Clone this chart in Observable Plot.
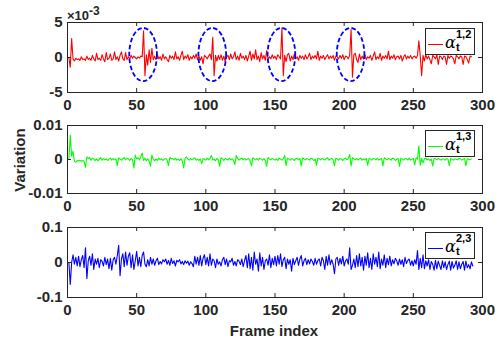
<!DOCTYPE html>
<html>
<head>
<meta charset="utf-8">
<script src="https://cdn.jsdelivr.net/npm/d3@7"></script>
<script src="https://cdn.jsdelivr.net/npm/@observablehq/plot@0.6"></script>
<style>
  html, body { margin: 0; padding: 0; background: #fff; }
  #chart { position: relative; width: 500px; height: 343px; overflow: hidden;
           font-family: "Liberation Sans", Arial, sans-serif; font-weight: bold; color: #262626; }
  .panel { position: absolute; left: 0; }
  .legend { position: absolute; left: 425px; width: 48px; height: 25px; border: 1px solid #262626; background: #fff; }
  .lline { position: absolute; left: 2px; top: 15px; width: 15px; height: 1px; }
  .alpha { position: absolute; left: 19px; top: 6px; font-family: "DejaVu Serif", serif; font-style: italic; font-weight: normal; font-size: 16px; line-height: 16px; color: #000; }
  .sup { position: absolute; left: 30px; top: 0px; font-size: 11px; line-height: 11px; color: #000; }
  .sub { position: absolute; left: 30px; top: 13px; font-size: 11px; line-height: 11px; color: #000; }
  .lab { position: absolute; white-space: nowrap; font-size: 15px; transform: translate(-50%, -50%); }
  #expo { position: absolute; left: 67px; top: 9px; font-size: 13px; line-height: 13px; white-space: nowrap; }
  #expo sup { font-size: 12px; position: relative; top: -5px; vertical-align: baseline; }
</style>
</head>
<body>
<div id="chart"></div>
<script>
// ---- data ----
const xTicks = [0, 50, 100, 150, 200, 250, 300];
const xLabels = ["0", "50", "100", "150", "200", "250", "300"];

// panel 1: alpha_t^{1,2}, values in units of 1e-3
const y1Ticks = [-5, 0, 5];
const y1Labels = ["-5", "0", "5"];
const alpha12_milli = [
  0, -1.4, 2.7, -0.2, -0.5, -0.1, -0.3, -0.2, -0.4, 0.1,
  -0.3, -0.2, -0.4, 0.2, -0.3, -0.1, -0.4, 0.3, -0.2, -0.5,
  0.6, -0.3, -0.1, -0.4, 0.4, -0.2, -0.6, 0.7, -0.3, -0.1,
  0.5, -0.4, -0.2, 0.8, -0.3, 0.1, -0.5, 0.3, 0.8, -0.2,
  -0.4, 0.7, -0.3, 0.1, -0.2, 0.3, -0.1, 0.2, 0, -0.2,
  0.1, -0.1, 0.2, 0.1, 3.8, -2.6, 0.4, -1.1, 1.1, -0.7,
  1.3, -0.3, 0.2, -0.3, 0.4, -0.2, 0.1, -0.4, 0.5, -0.2,
  0.1, -0.3, -0.6, 0.3, -0.1, 0.2, -0.3, 0.8, -0.2, 0.1,
  -0.4, 0.3, 0.9, -0.3, 0.2, -0.1, 0.4, -0.4, 0.1, -0.2,
  0.3, -0.1, 0.5, -0.3, 0.2, -0.4, 0.1, -0.9, 0.3, 0.1,
  -0.2, 0.2, 0.5, -0.3, 2.9, -2.6, 0.3, -0.5, 0.3, -0.3,
  0.4, -0.4, 0.2, -0.6, 0.1, 0.3, -0.3, 0.5, -0.2, 0.1,
  0.8, -0.3, 0.2, -0.4, 0.6, -0.1, 0.2, -0.3, 0.3, -0.5,
  0.2, 0.9, -0.4, 0.5, -0.2, 1.1, -0.3, 0.2, -0.6, 0.7,
  -0.2, 0.3, -0.4, 1.0, -0.3, 0.1, -0.2, 0.4, -0.1, 0.2,
  -0.3, 0.4, 0.1, -0.2, 4.2, -2.6, 0.3, -0.6, 0.4, 0.6,
  -0.5, 0.2, -0.3, 0.5, -0.2, 0.1, -0.4, 0.3, -0.1, 0.2,
  -0.3, 0.4, -0.2, 0.1, 0.6, -0.3, 0.2, -0.1, 0.3, -0.2,
  0.9, -0.4, 0.2, -0.1, 0.3, -0.3, 0.1, 0.4, -0.2, 0.2,
  -0.1, 0.3, -0.4, 0.2, 0.1, -0.2, 0.3, -0.1, 0.4, -0.3,
  0.2, 0.1, -0.2, 0.3, 4.0, -2.8, 0.4, 0.6, -0.3, -0.7,
  0.5, -0.3, 0.2, -0.2, 0.4, -0.3, 0.1, -0.1, 0.3, -0.4,
  0.2, 0.8, -0.3, 0.1, -0.2, 0.6, -0.4, 0.2, -0.1, 0.3,
  -0.2, 0.9, -0.3, 0.2, -0.1, 0.4, -0.3, 0.1, 0.2, -0.2,
  0.3, -0.5, 0.1, 0.4, -0.2, 0.2, -0.1, 0.3, -0.2, 0.1,
  0.2, -0.1, 0.3, 2.4, 0.2, -2.6, 0.3, -0.5, 0.4, -0.2,
  0.2, -0.3, -0.9, 0.3, 0.1, -0.2, 0.4, -1.0, 0.2, 0.1,
  -0.3, 0.2, 0.1, -1.0, 0.3, -0.1, 0.2, 0.1, -0.2, -0.9,
  0.3, 0.1, -0.2, 0.2, 0.1, -1.0, 0.2, 0.1, -0.3, -0.8,
  0.2, 0.1
];

// panel 2: alpha_t^{1,3}, values in units of 1e-3
const y2Ticks = [-0.01, 0, 0.01];
const y2Labels = ["-0.01", "0", "0.01"];
const alpha13_milli = [
  0, 7.1, 1.0, 2.4, -0.5, -0.8, -0.3, -0.4, -0.2, -0.5,
  -0.3, -0.6, -2.3, 0.8, 0.3, 0.6, -0.2, 0.4, 0.1, -0.3,
  0.2, -0.4, 0.1, 0.6, -0.2, 0.3, -0.1, 0.2, -0.3, 0.1,
  0.4, -0.2, 0.3, -0.1, 0.2, -1.8, 0.5, 0.1, -0.2, 0.3,
  0.6, -0.1, 0.4, 0.2, -0.3, 0.3, -0.1, -2.5, 1.3, 0.2,
  0.5, -0.1, 0.8, 1.9, -0.3, 0.4, -0.4, 0.2, -0.5, -2.0,
  1.3, 0.1, -0.4, 0.2, -0.3, 0.4, -0.1, 0.2, -0.3, 0.1,
  0.3, -0.2, -1.8, 0.6, 0.2, 0.3, -0.1, 0.4, -0.2, 0.1,
  -0.3, 0.2, -0.5, -2.5, 0.4, 0.8, 0.1, -0.2, 0.3, -0.1,
  0.2, 0.5, -0.2, 0.1, -0.3, 0.2, -1.2, 0.3, 0.1, -0.2,
  0.4, -0.1, 0.3, 1.2, -0.2, 0.1, -0.4, 0.3, -0.1, -2.0,
  0.5, 0.2, -0.3, 0.3, 0.1, -0.2, 0.4, -0.1, 0.2, -0.3,
  -1.5, 1.2, 0.3, -0.2, 0.2, 0.4, -0.1, 0.3, -0.2, 0.1,
  0.3, -0.4, -1.8, 0.5, 0.2, -0.1, 0.3, -0.2, 0.4, 0.1,
  -0.2, 0.3, -0.3, -2.0, 0.6, 0.2, -0.1, 0.3, 0.1, -0.2,
  0.2, -0.3, 0.4, 0.1, -0.2, 0.2, 1.2, -1.8, 0.4, 0.1,
  -0.2, 0.3, 0.1, -0.3, 0.2, 0.4, -0.1, 0.3, -1.9, 0.5,
  0.2, -0.1, 0.3, 0.1, -0.2, 0.4, 0.2, -0.3, 0.1, -1.7,
  0.4, 0.2, -0.1, 0.3, 0.1, -0.2, 0.3, 0.5, -0.2, 0.1,
  0.3, -0.1, -1.8, 0.4, 0.2, -0.2, 0.3, 0.1, -0.3, 0.2,
  0.4, -0.1, 0.3, 1.5, -1.9, 0.5, 0.2, -0.1, 0.3, -0.2,
  0.1, 0.4, -0.2, 0.2, -0.1, 0.3, -1.7, 0.4, 0.1, -0.2,
  0.3, 0.2, -0.1, 0.4, -0.2, 0.1, 0.3, -1.9, 0.5, 0.2,
  -0.1, 0.3, 0.1, -0.2, 0.4, 0.2, -0.3, 0.1, 0.3, -2.0,
  0.4, 0.1, -0.2, 0.3, 0.2, -0.1, 0.4, -0.2, 0.1, 0.3,
  -1.6, 0.5, 0.1, 4.0, -1.7, 0.3, -1.0, 0.2, 0.4, -0.1,
  0.2, -0.3, 0.1, -1.9, 0.3, 0.2, -0.1, 0.3, 0.1, -0.2,
  0.2, 0.1, -0.2, 0.3, 0.1, -1.8, 0.3, 0.1, -0.2, 0.2,
  0.1, -0.1, 0.3, 0.2, -0.2, 0.1, 0.3, -1.8, 0.2, 0.1,
  -0.1, 0.2
];

// panel 3: alpha_t^{2,3}, values in units of 1e-3
const y3Ticks = [-0.1, 0, 0.1];
const y3Labels = ["-0.1", "0", "0.1"];
const alpha23_milli = [
  0, -63, 0, 22, -5, 15, -10, 18, -12, 8,
  20, -15, 42, -46, 5, 18, -8, 25, -20, 10,
  -5, 12, -15, 8, 3, -10, 15, -6, 10, -18,
  12, -22, 8, 15, -5, 20, 49, -38, 10, 25,
  -12, 30, -8, 18, 28, -15, 22, -20, 5, 32,
  -10, 15, -12, 20, 30, -5, -12, 8, -10, 15,
  -5, 10, -8, 5, 12, -6, 3, -4, 8, 2,
  10, -5, 6, -8, 12, -3, 5, -10, 6, 2,
  8, -4, 3, -6, 5, -2, 4, -8, 2, -3,
  -12, 18, -5, 15, -8, 20, -10, 12, 22, -6,
  15, -10, 25, -8, 10, 5, -15, 10, -5, 2,
  -10, 8, 15, -6, 10, -12, 5, 2, 12, -8,
  3, -10, 8, 4, -6, 10, -12, 5, 20, -15,
  25, -18, 15, -22, 30, -5, 10, -25, 28, -10,
  15, -20, 5, 10, -8, 22, -15, 12, -6, 18,
  -10, 20, -5, 25, -12, 8, 15, -18, 10, -5,
  8, -25, 12, -6, 5, 15, -8, 10, 20, -10,
  5, 12, -6, 8, -4, 10, 3, -8, 12, -5,
  6, 10, -10, 15, 5, -20, 18, -8, 22, -6,
  8, -5, -32, 10, 15, -8, 12, -4, 18, -10,
  5, 10, -5, 42, -20, -8, 10, -15, 20, -12,
  25, -10, 15, -22, 18, -8, 28, -15, 12, -20,
  25, -5, 15, -12, 30, -18, 10, -8, 22, -15,
  12, -6, 18, -10, 8, -4, 12, 5, -8, 10,
  -5, 8, -12, 15, -3, 6, 10, -8, 5, -10,
  8, -5, 34, -20, 12, -15, 22, -18, 5, -10,
  8, -20, 3, -5, -22, 6, -18, 4, -8, -20,
  5, -15, 2, -20, -6, 4, -22, 3, -16, -8,
  5, -20, 2, -18, -5, 3, -22, 4, -15, -6,
  -18, 2, -10
];

// highlighted events (frame index of the ellipse centres)
const ellipseCenters = [55, 105, 155, 205];

// ---- layout ----
const W = 500, ML = 67, MR = 18;
const axisColor = "#262626";
const chart = document.getElementById("chart");

function lookup(ticks, labels) {
  return d => { const k = ticks.findIndex(t => Math.abs(t - d) < 1e-12); return k < 0 ? "" : labels[k]; };
}

function ellipseMark(yCenter, halfW, halfH) {
  return (index, scales) => {
    const g = d3.create("svg:g");
    for (const c of ellipseCenters) {
      const cx = scales.x(c), cy = scales.y(yCenter);
      g.append("ellipse")
        .attr("cx", cx).attr("cy", cy)
        .attr("rx", scales.x(c + halfW) - cx)
        .attr("ry", cy - scales.y(yCenter + halfH))
        .attr("fill", "none").attr("stroke", "#0000ff")
        .attr("stroke-width", 1.8).attr("stroke-dasharray", "4.5,2.5");
    }
    return g.node();
  };
}

function panel({values, factor, color, yTicks, yLabels, yDomain, top, height, mt, mb, extra = []}) {
  const innerH = height - mt - mb, innerW = W - ML - MR;
  const svg = Plot.plot({
    width: W, height, marginLeft: ML, marginRight: MR, marginTop: mt, marginBottom: mb,
    style: {fontFamily: "'Liberation Sans', Arial, sans-serif", fontSize: "15px", fontWeight: "bold",
            color: axisColor, background: "transparent", overflow: "visible"},
    x: {domain: [0, 300], ticks: xTicks, tickFormat: lookup(xTicks, xLabels), tickSize: 0, tickPadding: 7, label: null},
    y: {domain: yDomain, ticks: yTicks, tickFormat: lookup(yTicks, yLabels), tickSize: 0, tickPadding: 5, label: null},
    marks: [
      Plot.line(values, {x: (d, i) => i + 1, y: d => d * factor, stroke: color, strokeWidth: 1.1}),
      ...extra,
      Plot.ruleX(xTicks, {x: d => d, insetTop: innerH - 4, stroke: axisColor}),
      Plot.ruleX(xTicks, {x: d => d, insetBottom: innerH - 4, stroke: axisColor}),
      Plot.ruleY(yTicks, {y: d => d, insetRight: innerW - 4, stroke: axisColor}),
      Plot.ruleY(yTicks, {y: d => d, insetLeft: innerW - 4, stroke: axisColor}),
      Plot.frame({stroke: axisColor})
    ]
  });
  svg.classList.add("panel");
  svg.style.top = top + "px";
  chart.appendChild(svg);
}

panel({values: alpha12_milli, factor: 1, color: "#ff0000", yTicks: y1Ticks, yLabels: y1Labels,
       yDomain: [-5, 5], top: 0, height: 115, mt: 22, mb: 23,
       extra: [ellipseMark(0.35, 10, 3.8)]});
panel({values: alpha13_milli, factor: 1e-3, color: "#00ff00", yTicks: y2Ticks, yLabels: y2Labels,
       yDomain: [-0.01, 0.01], top: 115, height: 102, mt: 10, mb: 24});
panel({values: alpha23_milli, factor: 1e-3, color: "#0000ff", yTicks: y3Ticks, yLabels: y3Labels,
       yDomain: [-0.1, 0.1], top: 217, height: 126, mt: 10, mb: 46});

// legends
const legends = [
  {top: 28, color: "#ff0000", sup: "1,2"},
  {top: 130, color: "#00ff00", sup: "1,3"},
  {top: 232, color: "#0000ff", sup: "2,3"}
];
for (const L of legends) {
  const box = document.createElement("div");
  box.className = "legend";
  box.style.top = L.top + "px";
  box.innerHTML = `<div class="lline" style="background:${L.color}"></div>` +
    `<span class="alpha">α</span><span class="sup">${L.sup}</span><span class="sub">t</span>`;
  chart.appendChild(box);
}

// texts
const expo = document.createElement("div");
expo.id = "expo";
expo.innerHTML = "×10<sup>-3</sup>";
chart.appendChild(expo);

const yl = document.createElement("div");
yl.className = "lab";
yl.style.left = "19px"; yl.style.top = "160px";
yl.style.transform = "translate(-50%, -50%) rotate(-90deg)";
yl.textContent = "Variation";
chart.appendChild(yl);

const xl = document.createElement("div");
xl.className = "lab";
xl.style.left = "274px"; xl.style.top = "330px";
xl.textContent = "Frame index";
chart.appendChild(xl);
</script>
</body>
</html>
